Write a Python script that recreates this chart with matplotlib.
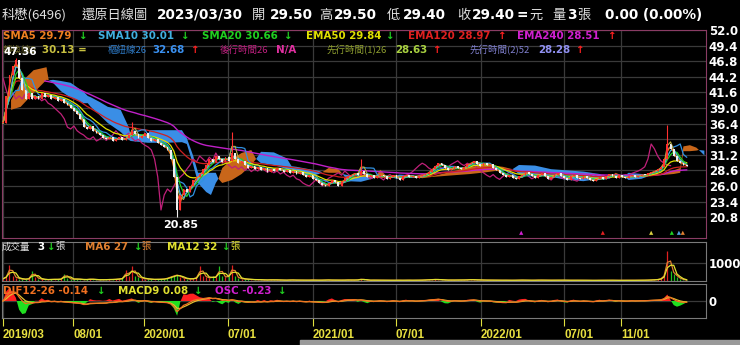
import numpy as np
import pandas as pd
import matplotlib
matplotlib.use('Agg')
import matplotlib.pyplot as plt

plt.rcParams['font.family'] = ['Noto Sans CJK TC', 'DejaVu Sans']

# weekly closes, 2019/03 .. 2023/03/30
close = [36.5, 41.0, 44.5, 46.0, 47.0, 44.0, 42.0, 40.5, 41.5, 40.5,
         41.0, 40.5, 41.5, 40.8, 41.2, 40.5, 40.8, 40.2, 40.5, 39.8,
         39.5, 39.0, 38.5, 38.0, 37.2, 35.8, 35.5, 36.0, 35.2, 34.8,
         34.5, 34.0, 33.8, 34.2, 33.5, 33.8, 34.2, 33.6, 34.0, 34.5,
         35.2, 34.6, 34.0, 34.4, 34.8, 34.0, 33.5, 33.8, 33.2, 32.8,
         32.5, 32.0, 30.5, 27.5, 22.0, 24.5, 25.5, 25.0, 26.0, 27.0,
         27.5, 28.0, 28.8, 29.5, 30.5, 30.0, 31.0, 30.5, 30.0, 30.8,
         30.2, 31.5, 30.5, 29.8, 30.2, 29.5, 29.0, 29.3, 28.8, 29.2,
         28.6, 29.0, 28.4, 28.8, 28.5, 29.0, 28.7, 28.3, 28.6, 28.2,
         28.5, 28.0, 28.3, 27.8, 27.5, 27.8, 27.2, 27.0, 26.5, 26.2,
         26.0, 26.5, 27.0, 26.6, 26.0, 26.8, 27.3, 27.6, 27.9, 28.2,
         27.8, 28.5, 28.0, 27.5, 27.8, 27.4, 27.7, 27.9, 27.6, 27.2,
         27.5, 27.8, 27.4, 27.0, 27.6, 27.9, 27.5, 27.7, 27.3, 27.6,
         27.8, 28.0, 28.4, 28.9, 29.4, 29.8, 29.5, 29.0, 28.7, 28.9,
         29.3, 29.0, 28.8, 29.2, 29.6, 29.9, 30.2, 29.7, 29.4, 29.8,
         29.5, 29.6, 29.0, 28.6, 28.2, 27.8, 27.5, 27.9, 27.4, 27.1,
         27.6, 27.9, 28.3, 28.0, 27.6, 27.3, 27.8, 28.1, 27.6, 27.2,
         27.5, 27.9, 28.2, 27.7, 27.3, 27.0, 27.6, 27.9, 27.4, 27.2,
         27.6, 27.3, 27.0, 26.8, 27.2, 27.5, 27.2, 27.6, 28.0, 27.7,
         27.4, 27.8, 27.5, 27.3, 27.6, 27.8, 27.5, 27.7, 27.9, 27.8,
         28.1, 28.3, 28.5, 28.8, 29.2, 30.5, 33.0, 32.2, 31.0, 30.2,
         29.8, 29.5, 29.4]

# wicks that stick out (week, price)
spike_wk = [4, 40, 54, 71, 111, 206]
spike_val = [47.36, 36.7, 20.85, 35.0, 30.5, 36.2]

# EMA240 where it first shows on the chart (week, price)
ema240_start = (13, 43.5)

# ichimoku cloud edges (week, leading span 1, leading span 2)
cloud_wk = [2.5, 5.5, 9.5, 13.5, 14.2, 15.5, 18, 21, 25, 26.3, 27.2, 30, 32.5, 36.5, 39, 39.6,
            44.9, 45.5, 50.5, 55.5, 57,
            59, 60.5, 63, 64.5, 66, 66.8, 68, 71, 74, 77, 78.5, 80, 84, 88,
            89.5, 91, 95, 98, 99, 101, 104, 105.3, 107, 111, 114.5, 115.3, 117, 119, 119.8,
            123, 126.5, 127.3, 130, 133, 140, 145, 150, 155, 158, 160, 165, 170, 175, 180,
            185, 187, 188.5, 190, 192.5, 194, 198, 200.5, 204, 208, 210, 211, 213, 215,
            215.8, 217.5]
span1 = [40.3, 43.2, 45.3, 45.8, 43.6, 43.2, 41.8, 40.7, 39.8, 39.8, 39.2, 37.8, 36.5, 35.0,
         33.7, 33.5, 33.2, 33.2, 33.2, 33.3, 33.0,
         29.5, 26.5, 25.0, 24.5, 26.5, 27.2, 29.0, 30.5, 31.5, 32.0, 30.5, 29.8, 29.5, 28.8,
         28.8, 28.2, 27.6, 28.0, 28.3, 29.0, 28.8, 28.0, 26.8, 26.7, 27.2, 27.4, 28.7, 27.6,
         27.5, 27.1, 27.5, 27.6, 28.0, 27.6, 28.5, 29.2, 29.5, 29.2, 28.8, 28.0, 27.8, 27.5,
         27.0, 26.8, 27.2, 27.5, 27.6, 28.2, 27.6, 27.0, 27.2, 27.7, 28.0, 28.6, 29.0, 32.6,
         32.8, 32.4, 32.0, 31.1]
span2 = [38.7, 39.2, 41.5, 43.7, 43.6, 43.7, 43.5, 43.2, 41.7, 41.0, 40.8, 40.0, 39.2, 38.7,
         35.8, 34.5, 34.5, 35.3, 35.3, 35.3, 34.0,
         31.0, 28.2, 28.2, 28.2, 28.2, 27.2, 26.5, 27.0, 28.0, 29.5, 30.5, 31.7, 31.6, 30.6,
         29.3, 29.2, 28.8, 28.5, 28.3, 28.2, 28.2, 28.0, 27.8, 27.8, 27.5, 27.4, 27.3, 27.4,
         27.5, 27.9, 27.8, 27.6, 27.3, 27.5, 27.8, 28.0, 28.3, 28.7, 28.8, 29.5, 29.4, 28.8,
         28.6, 28.4, 28.0, 27.6, 27.6, 27.4, 27.6, 28.2, 28.0, 27.7, 27.8, 28.0, 28.2, 31.8,
         31.8, 31.9, 32.0, 31.9]

volume = [120, 300, 900, 250, 180, 120, 90, 100, 150, 550,
          200, 120, 90, 80, 70, 100, 80, 90, 120, 410,
          150, 100, 90, 120, 80, 70, 90, 110, 80, 70,
          60, 80, 70, 90, 80, 100, 120, 150, 600, 250,
          800, 300, 200, 150, 120, 100, 90, 80, 100, 90,
          120, 180, 250, 300, 350, 200, 150, 120, 100, 150,
          200, 800, 300, 200, 150, 250, 200, 800, 250, 200,
          300, 900, 250, 150, 120, 100, 90, 80, 70, 80,
          60, 50, 60, 70, 50, 60, 50, 40, 50, 60,
          50, 40, 50, 45, 40, 50, 60, 40, 45, 50,
          60, 50, 40, 50, 45, 40, 55, 60, 50, 45,
          70, 120, 50, 40, 45, 50, 40, 35, 45, 40,
          35, 40, 45, 40, 35, 50, 40, 35, 40, 45,
          50, 60, 70, 80, 90, 70, 60, 50, 45, 50,
          55, 50, 45, 60, 70, 80, 60, 50, 55, 45,
          40, 45, 50, 40, 35, 45, 40, 35, 40, 45,
          50, 45, 40, 35, 40, 45, 50, 40, 35, 40,
          45, 40, 50, 45, 40, 35, 40, 45, 40, 35,
          40, 35, 30, 35, 40, 35, 40, 45, 40, 35,
          30, 35, 40, 35, 30, 35, 40, 35, 40, 45,
          50, 60, 70, 90, 150, 400, 1650, 550, 400, 200,
          120, 60, 30]

price_ticks = [52.0, 49.4, 46.8, 44.2, 41.6, 39.0, 36.4, 33.8, 31.2, 28.6, 26.0, 23.4, 20.8]
date_ticks = ['2019-03-01', '2019-08-01', '2020-01-01', '2020-07-01', '2021-01-01',
              '2021-07-01', '2022-01-01', '2022-07-01', '2022-11-01']
date_labels = ['2019/03', '08/01', '2020/01', '07/01', '2021/01', '07/01', '2022/01', '07/01', '11/01']

cross_wk = [160.7, 186.0, 201.0, 207.4, 209.6, 210.8]
cross_col = ['#d020d0', '#e02020', '#d8d040', '#20d020', '#50a0e0', '#e08030']

BG = 'black'
GRID = '#3a3a3a'

c = pd.Series(close, dtype=float)
n = len(c)
wk = np.arange(n)
op = c.shift(1).fillna(c.iloc[0])
hi = np.maximum(c, op).values.copy()
lo = np.minimum(c, op).values.copy()
for w, v in zip(spike_wk, spike_val):
    if v > c[w]:
        hi[w] = v
    else:
        lo[w] = v
hi_s = pd.Series(hi)
lo_s = pd.Series(lo)

# moving averages (weekly data, windows scaled down from days)
sma5 = c.rolling(2, min_periods=1).mean()
sma10 = c.rolling(3, min_periods=1).mean()
sma20 = c.rolling(4, min_periods=1).mean()
ema50 = c.ewm(span=10).mean()
ema120 = c.ewm(span=24).mean()
w0, v0 = ema240_start
e240_src = pd.concat([pd.Series([v0]), c.iloc[w0 + 1:]], ignore_index=True)
ema240 = e240_src.ewm(span=48, adjust=False).mean()
ema240_x = np.arange(w0, n)
tenkan = (hi_s.rolling(2, min_periods=1).max() + lo_s.rolling(2, min_periods=1).min()) / 2
kijun = (hi_s.rolling(5, min_periods=1).max() + lo_s.rolling(5, min_periods=1).min()) / 2
lag = 5

# macd
dif = c.ewm(span=2.4, adjust=False).mean() - c.ewm(span=5.2, adjust=False).mean()
macd = dif.ewm(span=3, adjust=False).mean()
osc = dif - macd

vol = pd.Series(volume, dtype=float)
vma6 = vol.rolling(2, min_periods=1).mean()
vma12 = vol.rolling(3, min_periods=1).mean()

fig = plt.figure(figsize=(7.4, 3.45), dpi=100, facecolor=BG)


def fx(x):
    return x / 740


def fy(y):
    return 1 - y / 345


ax = fig.add_axes([fx(2), fy(238), fx(704), 208 / 345], facecolor=BG)
axv = fig.add_axes([fx(2), fy(281), fx(704), 39 / 345], facecolor=BG)
axm = fig.add_axes([fx(2), fy(318), fx(704), 34 / 345], facecolor=BG)

xmin, xmax = -0.3, 218
tick_pos = [(pd.Timestamp(d) - pd.Timestamp('2019-03-01')).days / 7 for d in date_ticks]

# macd histogram on its own scale (made first so the tick side can be reset below)
axo = axm.twinx()

for a in (ax, axv, axm):
    a.set_xlim(xmin, xmax)
    a.set_xticks(tick_pos)
    a.grid(True, color=GRID, lw=0.9)
    a.set_axisbelow(True)
    a.yaxis.tick_right()
    a.tick_params(axis='y', length=0, pad=2, labelcolor='white', labelsize=8.5,
                  labelleft=False, labelright=True)
    for s in a.spines.values():
        s.set_color('#7a7a7a')
for a in (ax, axv):
    a.tick_params(axis='x', length=0, labelbottom=False)
for s in ax.spines.values():
    s.set_color('#8a3c64')

# price panel
ax.set_ylim(17.33, 52.0)
ax.set_yticks(price_ticks)
ax.set_yticklabels([f'{v:.1f}' for v in price_ticks], fontweight='bold', family='DejaVu Sans')

s1 = np.array(span1)
s2 = np.array(span2)
ax.fill_between(cloud_wk, s1, s2, where=s1 >= s2, color='#c8661a', lw=0, interpolate=True, zorder=1)
ax.fill_between(cloud_wk, s1, s2, where=s1 < s2, color='#3a8ee6', lw=0, interpolate=True, zorder=1)

ax.plot(wk[lag:] - lag, c.values[lag:], color='#c0207a', lw=0.9, zorder=2)
ax.plot(ema240_x, ema240, color='#c020c8', lw=1.0, zorder=2)
ax.plot(wk, ema120, color='#d02020', lw=0.9, zorder=2)
ax.plot(wk, kijun, color='#3090e0', lw=0.9, zorder=2)
ax.plot(wk, tenkan, color='#b8b040', lw=0.8, zorder=2)
ax.plot(wk, ema50, color='#e0e000', lw=0.9, zorder=3)
ax.plot(wk, sma20, color='#20d020', lw=0.9, zorder=3)
ax.plot(wk, sma10, color='#40b0e0', lw=0.9, zorder=3)
ax.plot(wk, sma5, color='#f08020', lw=0.9, zorder=3)

up = (c >= op).values
ccol = np.where(up, '#ff3030', '#f0f0f0')
ax.vlines(wk, lo, hi, colors=ccol, lw=0.8, zorder=4)
ax.bar(wk, np.maximum(np.abs(c - op).values, 0.12), bottom=np.minimum(c, op).values,
       width=0.55, color=ccol, lw=0, zorder=4)

ax.scatter(cross_wk, [18.2] * len(cross_wk), marker='^', s=9, c=cross_col, zorder=5, lw=0)

ax.text(55, 20.85 - 0.45, '20.85', color='white', fontsize=8, fontweight='bold',
        family='DejaVu Sans', ha='center', va='top', zorder=6)

# volume panel
axv.set_ylim(0, 2150)
axv.set_yticks([1000])
axv.set_yticklabels(['1000'], fontweight='bold', family='DejaVu Sans')
vcol = np.where(up, '#e02020', '#20c020')
axv.vlines(wk, 0, vol, colors=vcol, lw=0.9)
axv.plot(wk, vma6, color='#e08030', lw=0.9)
axv.plot(wk, vma12, color='#e0e030', lw=0.9)

# macd panel
lim = max(abs(dif.min()), abs(dif.max())) * 1.6
axm.set_ylim(-lim, lim)
axm.set_yticks([0])
axm.set_yticklabels(['0'], fontweight='bold', family='DejaVu Sans')
olim = max(abs(osc.min()), abs(osc.max())) * 1.15
axo.set_ylim(-olim, olim)
axo.set_yticks([])
axo.set_xlim(xmin, xmax)
for s in axo.spines.values():
    s.set_visible(False)
axo.fill_between(wk, 0, osc, where=osc >= 0, color='#ff2020', lw=0, interpolate=True, zorder=1)
axo.fill_between(wk, 0, osc, where=osc < 0, color='#20e020', lw=0, interpolate=True, zorder=1)
axo.plot(wk, macd / lim * olim, color='#e0c030', lw=0.9, zorder=2)
axo.plot(wk, dif / lim * olim, color='#f07020', lw=0.9, zorder=2)
axm.tick_params(axis='x', length=6, color='#e0e040', pad=2)
axm.set_xticklabels(date_labels, color='#e8e040', fontsize=8.3, fontweight='bold', family='Liberation Sans')
for lbl in axm.get_xticklabels():
    lbl.set_ha('left')


# header texts
def t(x, y, s, col, size=7.4, bold=True, fam=None):
    kw = {}
    if fam:
        kw['family'] = fam
    fig.text(fx(x), fy(y), s, color=col, fontsize=size, fontweight='bold' if bold else 'normal',
             va='center', ha='left', **kw)


W = 'white'
G = '#e0e0e0'
D = 'DejaVu Sans'
t(2, 15, '科懋(6496)', G, 9.5, False)
t(82, 15, '還原日線圖', G, 9.5, False)
t(157, 15, '2023/03/30', W, 9.8, True, D)
t(252, 15, '開', G, 9.5, False)
t(270, 15, '29.50', W, 9.8, True, D)
t(319, 15, '高', G, 9.5, False)
t(334, 15, '29.50', W, 9.8, True, D)
t(387, 15, '低', G, 9.5, False)
t(403, 15, '29.40', W, 9.8, True, D)
t(457, 15, '收', G, 9.5, False)
t(472, 15, '29.40', W, 9.8, True, D)
t(516, 15, '=', W, 9.8, True, D)
t(529, 15, '元', G, 9.5, False)
t(552, 15, '量', G, 9.5, False)
t(567, 15, '3', W, 9.8, True, D)
t(577, 15, '張', G, 9.5, False)
t(605, 15, '0.00 (0.00%)', W, 9.8, True, D)

DN = '#20d020'
UPC = '#ff2020'
row2 = [(3, 'SMA5 29.79', '#f08020', 78, DN), (98, 'SMA10 30.01', '#40b0e0', 180, DN),
        (202, 'SMA20 30.66', '#20d020', 283, DN), (306, 'EMA50 29.84', '#e0e000', 385, DN),
        (408, 'EMA120 28.97', '#e02020', 497, UPC), (517, 'EMA240 28.51', '#d020d0', 607, UPC)]
for x0, s, col, xa, acol in row2:
    t(x0, 36, s, col, 7.4, True, D)
    t(xa, 36, '↓' if acol == DN else '↑', acol, 7.4, True, D)

t(3, 50, '轉換線9', '#6c6628', 6.8, False)
t(42, 50, '30.13 =', '#c8c040', 7.4, True, D)
t(108, 50, '樞紐線26', '#3080d0', 6.8, False)
t(152, 50, '32.68', '#3a90f0', 7.4, True, D)
t(190, 50, '↑', UPC, 7.4, True, D)
t(220, 50, '後行時間26', '#c02080', 6.8, False)
t(276, 50, 'N/A', '#e030a0', 7.4, True, D)
t(327, 50, '先行時間(1)26', '#90a030', 6.8, False)
t(395, 50, '28.63', '#a8d040', 7.4, True, D)
t(432, 50, '↑', UPC, 7.4, True, D)
t(470, 50, '先行時間(2)52', '#8080d0', 6.8, False)
t(538, 50, '28.28', '#9090f0', 7.4, True, D)
t(575, 50, '↑', UPC, 7.4, True, D)
t(3, 52, '47.36', W, 7.6, True, D)

t(2, 247, '成交量', G, 6.8, False)
t(37, 247, '3', W, 7.4, True, D)
t(46, 247, '↓', DN, 7.4, True, D)
t(55, 247, '張', G, 6.8, False)
t(85, 247, 'MA6 27', '#e08030', 7.4, True, D)
t(133, 247, '↓', DN, 7.4, True, D)
t(141, 247, '張', '#e08030', 6.8, False)
t(167, 247, 'MA12 32', '#e0e030', 7.4, True, D)
t(221, 247, '↓', DN, 7.4, True, D)
t(230, 247, '張', '#e0e030', 6.8, False)

t(3, 291, 'DIF12-26 -0.14', '#f07020', 7.4, True, D)
t(96, 291, '↓', DN, 7.4, True, D)
t(118, 291, 'MACD9 0.08', '#e0e030', 7.4, True, D)
t(193, 291, '↓', DN, 7.4, True, D)
t(215, 291, 'OSC -0.23', '#d020d0', 7.4, True, D)
t(277, 291, '↓', DN, 7.4, True, D)

# scroll bar strip at the bottom
fig.patches.append(plt.Rectangle((fx(300), 0), fx(440), 5 / 345, transform=fig.transFigure,
                                 color='#9a9a9a', zorder=0))

fig.savefig('out.png', dpi=100, facecolor=BG)
